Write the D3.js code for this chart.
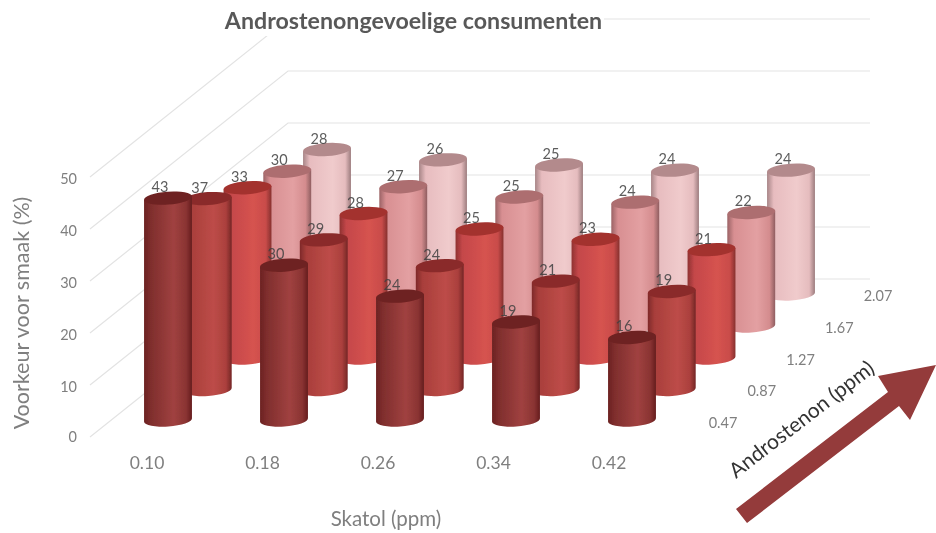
<!DOCTYPE html>
<html><head><meta charset="utf-8">
<script src="https://cdnjs.cloudflare.com/ajax/libs/d3/7.8.5/d3.min.js"></script>
<style>html,body{margin:0;background:#fff;overflow:hidden}text{font-family:Lato,"Open Sans",sans-serif}</style>
</head><body><svg id="c" width="936" height="533"></svg>
<script>
const chartTitle = "Androstenongevoelige consumenten";
const skatol = ["0.10","0.18","0.26","0.34","0.42"];
const androstenon = ["0.47","0.87","1.27","1.67","2.07"];
const yTicks = [0,10,20,30,40,50];
const row047 = [43,30,24,19,16];
const row087 = [37,29,24,21,19];
const row127 = [33,28,25,23,21];
const row167 = [30,27,25,24,22];
const row207 = [28,26,25,24,24];
const rows = [row047,row087,row127,row167,row207];
const bodyColors = [
 ["#6b2222","#7f2e2d","#a04140","#8a3432","#651e1f"],
 ["#7e2a2a","#a83e3b","#bd4c48","#ab403d","#742625"],
 ["#8f3230","#c4474a","#d6534f","#c94c4a","#86302e"],
 ["#9b6365","#d88f92","#e3a0a2","#d48c8e","#8f5e60"],
 ["#a78587","#e7bcbf","#f0cbcc","#e5bcbe","#9c7c7e"]];
const topColors = ["#6e2322","#8a2c2a","#a3322f","#ad6e70","#b38a8c"];

const svg = d3.select("#c");
const defs = svg.append("defs");
defs.append("filter").attr("id","soft").attr("x","-5%").attr("y","-5%").attr("width","110%").attr("height","110%")
  .append("feGaussianBlur").attr("stdDeviation",0.6);
bodyColors.forEach((c,i)=>{
  const g = defs.append("linearGradient").attr("id","g"+i);
  [0,0.14,0.62,0.88,1].forEach((o,k)=>g.append("stop").attr("offset",o).attr("stop-color",c[k]));
});
const root = svg.append("g").attr("filter","url(#soft)");
root.append("rect").attr("width",936).attr("height",533).attr("fill","#fff");

const sx = d3.scalePoint(skatol,[168,632]);
const depthX = d3.scalePoint(androstenon,[0,159]);
const depthY = d3.scaleOrdinal(androstenon,[420,389.5,358,326,294]);
const h = d3.scaleLinear([0,50],[0,258]);
const wallY = d3.scaleLinear([0,50],[279,19]);
const frontY = d3.scaleLinear([0,50],[437,177]);
const wall = {left:90,corner:288,right:870};

const grid = root.append("g");
grid.selectAll("path").data(yTicks).join("path")
  .attr("fill","none").attr("stroke","#e3e3e3").attr("stroke-width",1.2)
  .attr("d",t=>`M${wall.left},${frontY(t)}L${wall.corner},${wallY(t)}L${wall.right},${wallY(t)}`);

const titleG = root.append("g");
titleG.append("rect").attr("x",218).attr("y",6).attr("width",386).attr("height",30).attr("fill","#fff");
titleG.append("text").attr("x",413.5).attr("y",29).attr("text-anchor","middle")
  .attr("font-size",23.2).attr("font-weight",700).attr("fill","#595959").text(chartTitle);

const rx=24, ry=6.5, a=4*Math.PI/180, dx=rx*Math.cos(a), dy=rx*Math.sin(a);
const marks = [];
rows.forEach((r,j)=>r.forEach((v,i)=>marks.push({v,i,j,
  cx:sx(skatol[i])+depthX(androstenon[j]), base:depthY(androstenon[j])})));
marks.sort((p,q)=>q.j-p.j||p.i-q.i);
const cyl = root.selectAll("g.cyl").data(marks).join("g").attr("class","cyl");
const ell = (c,y)=>`M${c-dx},${y+dy}A${rx},${ry} -4 1 0 ${c+dx},${y-dy}A${rx},${ry} -4 1 0 ${c-dx},${y+dy}Z`;
cyl.append("path").attr("fill",d=>`url(#g${d.j})`)
  .attr("d",d=>{const t=d.base-h(d.v);
    return `M${d.cx-dx},${t+dy}L${d.cx-dx},${d.base+dy}A${rx},${ry} -4 0 0 ${d.cx+dx},${d.base-dy}L${d.cx+dx},${t-dy}Z`;});
cyl.append("path").attr("fill",d=>topColors[d.j]).attr("d",d=>ell(d.cx,d.base-h(d.v)));

root.append("g").selectAll("text").data(marks).join("text")
  .attr("x",d=>d.cx-8).attr("y",d=>d.base-h(d.v)-6).attr("text-anchor","middle")
  .attr("font-size",14.5).attr("fill","#404040").attr("fill-opacity",0.85).text(d=>d.v);

root.append("g").selectAll("text").data(yTicks).join("text")
  .attr("x",77).attr("y",t=>frontY(t)+(t===0?4.5:6.5)).attr("text-anchor","end")
  .attr("font-size",14.5).attr("fill","#7f7f7f").text(t=>t);

const catX = d3.scalePoint(skatol,[147,609]);
root.append("g").selectAll("text").data(skatol).join("text")
  .attr("x",d=>catX(d)).attr("y",469).attr("text-anchor","middle")
  .attr("font-size",17.5).attr("fill","#7f7f7f").text(d=>d);

const depthLabX = d3.scalePoint(androstenon,[723,878]);
const depthLabY = d3.scalePoint(androstenon,[428,301]);
root.append("g").selectAll("text").data(androstenon).join("text")
  .attr("x",d=>depthLabX(d)).attr("y",d=>depthLabY(d)).attr("text-anchor","middle")
  .attr("font-size",14.5).attr("fill","#7f7f7f").text(d=>d);

root.append("text").attr("transform","translate(29,313) rotate(-90)").attr("text-anchor","middle")
  .attr("font-size",21.5).attr("fill","#7f7f7f").text("Voorkeur voor smaak (%)");
root.append("text").attr("x",386).attr("y",526).attr("text-anchor","middle")
  .attr("font-size",20.5).attr("fill","#7f7f7f").text("Skatol (ppm)");
root.append("text").attr("transform","translate(806,425) rotate(-37.6)").attr("text-anchor","middle")
  .attr("font-size",21).attr("fill","#333").text("Androstenon (ppm)");

const arrow = [[736,509],[888,392],[878,376],[936,365],[910,420],[899,406],[747,523]];
root.append("path").attr("d",d3.line()(arrow)+"Z").attr("fill","#943a3a");
</script></body></html>
